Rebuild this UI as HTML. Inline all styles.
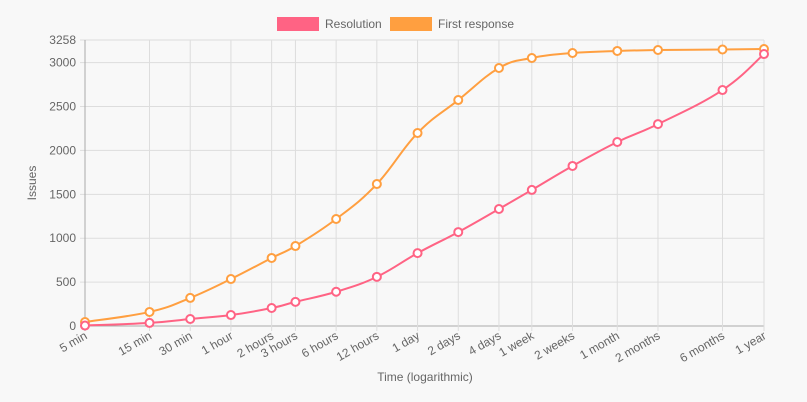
<!DOCTYPE html>
<html><head><meta charset="utf-8"><style>
body{margin:0;background:#f8f8f8;font-family:"Liberation Sans",sans-serif;}
svg{display:block}
</style></head><body>
<svg id="c" width="807" height="402"></svg>
<script>
const categories=["5 min","15 min","30 min","1 hour","2 hours","3 hours","6 hours","12 hours","1 day","2 days","4 days","1 week","2 weeks","1 month","2 months","6 months","1 year"];
const minutes=[5,15,30,60,120,180,360,720,1440,2880,5760,10080,20160,43200,86400,259200,525600];
const resolution=[5,35,80,125,205,275,390,560,830,1070,1333,1550,1823,2096,2300,2688,3098];
const firstResponse=[45,160,320,535,775,911,1219,1617,2198,2574,2939,3053,3110,3133,3144,3150,3155];
const yTicks=[0,500,1000,1500,2000,2500,3000,3258];
const NS="http://www.w3.org/2000/svg";
const svg=document.getElementById('c');
const L=85,R=764,T=40,B=326,YMAX=3258;
const lmin=Math.log10(5),lmax=Math.log10(525600);
function xs(m){return L+(Math.log10(m)-lmin)/(lmax-lmin)*(R-L);}
function ys(v){return B-v/YMAX*(B-T);}
function el(t,a,p){const e=document.createElementNS(NS,t);for(const k in a)e.setAttribute(k,a[k]);(p||svg).appendChild(e);return e;}
// grid
yTicks.forEach(v=>{
 const g=el('line',{x1:L-5,x2:R,y1:ys(v),y2:ys(v),stroke:v===0?'#aaa':'#ddd','stroke-width':1});
 
 
 const t=el('text',{x:L-9,y:ys(v)+4,'text-anchor':'end','font-size':12,fill:'#666'});
 t.textContent=v;
 
 
});
minutes.forEach((m,i)=>{
 const x=xs(m);
 const g=el('line',{x1:x,x2:x,y1:T,y2:B+5,stroke:i===0?'#aaa':'#ddd','stroke-width':1});
 
 
 const t=el('text',{x:x+3,y:B+12,'text-anchor':'end','font-size':12,fill:'#666',transform:`rotate(-30 ${x+3} ${B+12})`});
 t.textContent=categories[i];
 
 
});
function path(vals){
 const p=minutes.map((m,i)=>[xs(m),ys(vals[i])]);
 let d=`M${p[0][0]},${p[0][1]}`;const k=0.2;
 for(let i=0;i<p.length-1;i++){
  const p0=p[i-1]||p[i],p1=p[i],p2=p[i+1],p3=p[i+2]||p[i+1];
  d+=` C${p1[0]+(p2[0]-p0[0])*k},${p1[1]+(p2[1]-p0[1])*k} ${p2[0]-(p3[0]-p1[0])*k},${p2[1]-(p3[1]-p1[1])*k} ${p2[0]},${p2[1]}`;
 }
 return {d,p};
}
function series(vals,color,name){
 const {d,p}=path(vals);
 const l=el('path',{d,fill:'none',stroke:color,'stroke-width':2});
 
 
 p.forEach(q=>{
  const c=el('circle',{cx:q[0],cy:q[1],r:4,fill:'#fff',stroke:color,'stroke-width':2});
  
  
 });
}
series(firstResponse,'#ff9f40','first-response');
series(resolution,'#ff6384','resolution');
// legend
[[277,'#ff6384','Resolution','legend-resolution'],[390,'#ff9f40','First response','legend-first-response']].forEach(a=>{
 const g=el('g',{});
 
 
 el('rect',{x:a[0],y:17,width:42,height:14,fill:a[1]},g);
 const t=el('text',{x:a[0]+48,y:28,'font-size':12,fill:'#666'},g);t.textContent=a[2];
});
const yt=el('text',{x:36,y:183,'text-anchor':'middle','font-size':12,fill:'#666',transform:'rotate(-90 36 183)'});
yt.textContent='Issues';


const xt=el('text',{x:425,y:381,'text-anchor':'middle','font-size':12,fill:'#666'});
xt.textContent='Time (logarithmic)';


</script>
</body></html>
